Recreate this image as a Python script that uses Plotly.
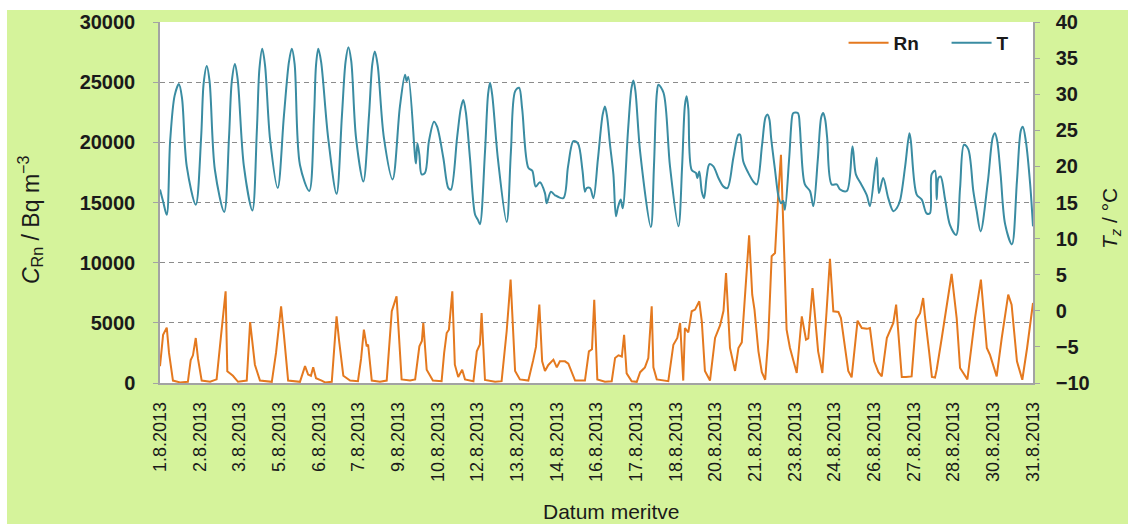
import numpy as np
import plotly.graph_objects as go

# ---- data: August 2013, time in days since 1.8.2013 00:00 ----
date_labels = ["1.8.2013", "2.8.2013", "3.8.2013", "5.8.2013", "6.8.2013", "7.8.2013",
               "9.8.2013", "10.8.2013", "12.8.2013", "13.8.2013", "14.8.2013", "16.8.2013",
               "17.8.2013", "18.8.2013", "20.8.2013", "21.8.2013", "23.8.2013", "24.8.2013",
               "26.8.2013", "27.8.2013", "28.8.2013", "30.8.2013", "31.8.2013"]

# air temperature T (°C)
t_time = [0.00, 0.12, 0.24, 0.36, 0.52, 0.67, 0.78, 0.95, 1.27,
          1.46, 1.55, 1.66, 1.76, 1.95, 2.28,
          2.45, 2.55, 2.66, 2.76, 2.98, 3.28,
          3.44, 3.53, 3.63, 3.73, 3.91, 4.18,
          4.40, 4.58, 4.68, 4.78, 4.97, 5.30,
          5.47, 5.54, 5.62, 5.72, 5.97, 6.27,
          6.46, 6.59, 6.69, 6.79, 6.96, 7.22,
          7.42, 7.54, 7.63, 7.73, 7.95, 8.26,
          8.52, 8.70, 8.76, 8.82, 9.06, 9.09, 9.14, 9.21, 9.29, 9.41,
          9.55, 9.73, 9.84, 10.06, 10.24, 10.33,
          10.55, 10.68, 10.77, 10.86, 11.01, 11.19, 11.29, 11.36,
          11.54, 11.65, 11.72, 11.80, 12.00, 12.31,
          12.46, 12.61, 12.75, 12.86, 13.08, 13.22, 13.34, 13.49, 13.67, 13.73,
          13.88, 14.03, 14.32, 14.49, 14.68, 14.84, 15.00, 15.09, 15.15, 15.27,
          15.39, 15.55, 15.72, 15.80, 15.88, 15.98, 16.10, 16.19, 16.26, 16.36, 16.43,
          16.62, 16.74, 16.81, 16.88, 17.05, 17.43,
          17.54, 17.64, 17.70, 17.88, 18.11, 18.41,
          18.54, 18.64, 18.70, 18.76, 18.88,
          19.03, 19.08, 19.15, 19.24, 19.32, 19.41, 19.51, 19.65, 19.83,
          20.01, 20.15, 20.36, 20.54, 20.60, 20.71, 20.89, 21.07, 21.19,
          21.38, 21.50, 21.57, 21.64, 21.70, 21.84, 21.96, 22.05, 22.13, 22.19,
          22.34, 22.45, 22.49, 22.65, 22.72, 22.76, 22.90, 23.08, 23.20,
          23.36, 23.48, 23.55, 23.62, 23.69, 23.85, 24.03, 24.15,
          24.39, 24.59, 24.71, 24.89, 25.10, 25.21, 25.45, 25.53, 25.68, 25.86,
          26.04, 26.16, 26.28, 26.46, 26.61, 26.66, 26.87, 27.05, 27.22, 27.34,
          27.40, 27.52, 27.58, 27.64, 27.72, 27.88, 28.05, 28.27, 28.41, 28.55,
          28.70, 28.88, 29.00, 29.14,
          29.40, 29.57, 29.65, 29.73, 29.85, 30.01, 30.25,
          30.43, 30.57, 30.64, 30.75, 30.90, 31.00]
t_value = [16.8, 15.0, 13.3, 23.5, 29.8, 31.4, 29.5, 20.0, 14.7,
           24.0, 31.5, 33.9, 31.8, 19.5, 13.7,
           24.0, 31.8, 34.2, 32.0, 20.0, 13.9,
           25.0, 33.5, 36.3, 34.0, 23.7, 17.0,
           27.0, 34.5, 36.3, 34.2, 20.2, 16.6,
           27.0, 34.0, 36.3, 34.5, 24.0, 16.2,
           27.0, 34.5, 36.5, 34.6, 24.0, 17.9,
           27.0, 34.2, 35.9, 34.0, 24.0, 18.2,
           28.3, 32.7, 31.8, 32.4, 21.2, 20.4, 23.2, 21.6, 18.9, 19.1,
           23.5, 26.2, 25.5, 21.2, 17.0, 16.8,
           24.0, 28.0, 29.2, 27.5, 21.0, 13.3, 12.6, 12.0,
           22.0, 30.0, 31.6, 29.8, 21.0, 12.3,
           22.0, 30.4, 30.9, 28.0, 19.8, 19.4, 17.2, 17.8, 16.3, 14.9,
           16.5, 16.0, 15.6, 20.0, 23.5, 23.2, 19.5, 16.5, 17.0, 17.0,
           15.6, 21.0, 27.2, 28.3, 26.8, 23.0, 18.9, 13.1, 14.3, 15.4, 14.2,
           25.0, 30.8, 31.9, 30.5, 22.0, 11.6,
           20.0, 30.0, 31.3, 30.2, 20.0, 11.7,
           20.0, 28.5, 29.7, 28.0, 19.5,
           19.1, 18.4, 19.3, 16.5, 15.6, 18.5, 20.3, 20.0, 18.4,
           17.2, 17.0, 21.2, 24.4, 24.4, 20.7, 19.1, 17.9, 17.5,
           23.0, 26.8, 27.2, 26.5, 24.0, 19.5, 15.9, 14.9, 15.2, 14.0,
           21.0, 27.0, 27.4, 27.4, 25.5, 23.0, 17.5, 16.6, 14.5,
           21.0, 26.8, 27.4, 26.5, 24.0, 17.5, 17.5, 16.8,
           16.6, 22.8, 18.9, 17.6, 16.0, 14.5, 21.2, 16.3, 18.4, 15.6,
           13.8, 14.2, 15.3, 20.0, 24.6, 23.6, 16.1, 15.4, 13.5, 13.5,
           18.9, 19.4, 15.4, 18.4, 18.6, 15.4, 11.9, 10.5, 17.0, 23.0,
           22.4, 16.6, 13.8, 11.0,
           18.0, 24.0, 24.6, 23.5, 18.9, 12.0, 9.2,
           18.0, 25.0, 25.5, 23.4, 17.5, 11.7]

# radon activity concentration C_Rn (Bq m^-3)
rn_time = [0.00, 0.11, 0.24, 0.32, 0.46, 0.71, 0.99, 1.09, 1.17, 1.27,
           1.35, 1.48, 1.78, 2.01, 2.17, 2.33, 2.39, 2.59, 2.77, 3.08,
           3.20, 3.37, 3.55, 3.97, 4.12, 4.30, 4.40, 4.55, 4.97, 5.15,
           5.26, 5.36, 5.44, 5.54, 5.74, 5.86, 6.10, 6.18, 6.27, 6.36,
           6.51, 6.75, 7.03, 7.14, 7.24, 7.34, 7.39, 7.52, 7.81, 8.05,
           8.23, 8.40, 8.46, 8.58, 8.88, 9.06, 9.21, 9.30, 9.35, 9.47,
           9.69, 10.00, 10.09, 10.18, 10.26, 10.38, 10.47, 10.59, 10.73, 10.83,
           11.13, 11.25, 11.36, 11.42, 11.54, 11.90, 12.13, 12.31, 12.45, 12.61,
           12.78, 13.08, 13.25, 13.35, 13.47, 13.57, 13.67, 13.79, 13.97, 14.09,
           14.20, 14.38, 14.50, 14.62, 14.74, 15.09, 15.23, 15.34, 15.42, 15.53,
           15.80, 16.04, 16.16, 16.28, 16.40, 16.48, 16.57, 16.75, 16.93, 17.05,
           17.22, 17.34, 17.46, 17.52, 17.64, 18.05, 18.23, 18.37, 18.47, 18.58,
           18.64, 18.76, 18.88, 19.00, 19.15, 19.24, 19.35, 19.53, 19.71, 19.89,
           20.01, 20.10, 20.24, 20.42, 20.54, 20.66, 20.92, 21.03, 21.11, 21.25,
           21.37, 21.49, 21.60, 21.72, 21.84, 21.94, 22.05, 22.17, 22.25, 22.37,
           22.49, 22.61, 22.79, 22.94, 23.02, 23.17, 23.37, 23.52, 23.67, 23.79,
           23.91, 24.09, 24.18, 24.33, 24.44, 24.56, 24.71, 24.77, 24.92, 25.10,
           25.21, 25.36, 25.51, 25.63, 25.81, 26.04, 26.14, 26.22, 26.34, 26.49,
           26.69, 26.85, 26.99, 27.10, 27.16, 27.31, 27.41, 27.52, 27.58, 27.76,
           27.93, 28.11, 28.29, 28.41, 28.67, 28.94, 29.15, 29.36, 29.47, 29.59,
           29.71, 29.89, 30.12, 30.24, 30.43, 30.62, 30.79, 31.00]
rn_value = [1400, 4000, 4600, 2500, 200, 50, 100, 1900, 2300, 3740,
            2000, 200, 100, 300, 4000, 7620, 970, 600, 100, 200,
            5070, 1520, 200, 100, 2500, 6370, 4000, 200, 100, 1400,
            700, 600, 1300, 400, 200, 50, 100, 2500, 5540, 3500,
            600, 200, 150, 2000, 4430, 3050, 3200, 200, 100, 200,
            5960, 7200, 5000, 300, 200, 300, 3050, 3500, 4990, 1100,
            200, 150, 2500, 4150, 4430, 7620, 1520, 500, 1100, 300,
            150, 2630, 3200, 5820, 250, 100, 150, 4300, 8590, 1000,
            300, 200, 1880, 3000, 6510, 1800, 1000, 1500, 1940, 1300,
            1800, 1800, 1600, 900, 200, 200, 2630, 2800, 6920, 300,
            100, 150, 2080, 2300, 2200, 4010, 800, 150, 100, 900,
            1300, 2080, 6370, 1300, 300, 150, 3180, 3740, 4990, 200,
            4570, 4200, 5960, 6100, 6790, 5100, 1000, 200, 3740, 4800,
            6000, 9140, 2910, 1000, 2910, 3380, 12270, 7340, 6090, 2630,
            900, 270, 3740, 10530, 10800, 15100, 18970, 10390, 4430, 2910,
            1800, 830, 5540, 3600, 3700, 7890, 2630, 830, 5960, 10330,
            5960, 5900, 5400, 2630, 1000, 470, 4200, 5180, 4570, 4500,
            4570, 1800, 900, 560, 3740, 4990, 6510, 4300, 500, 500,
            550, 5260, 5800, 7060, 5600, 2630, 500, 450, 1100, 3740,
            6370, 9060, 5400, 1250, 300, 5400, 8590, 2910, 2350, 1400,
            550, 3740, 7340, 6500, 1800, 270, 2910, 6650]

RN_COLOR = "#E4791F"
T_COLOR = "#3A8CA2"
GREEN = "#D5F39B"
AXIS_GREY = "#A3A3A3"
FONT = "Arial, Liberation Sans, sans-serif"

fig = go.Figure()
fig.add_trace(go.Scatter(x=rn_time, y=rn_value, name="Rn", mode="lines",
                         line=dict(color=RN_COLOR, width=2)))
fig.add_trace(go.Scatter(x=t_time, y=t_value, name="T", mode="lines", yaxis="y2",
                         line=dict(color=T_COLOR, width=2, shape="spline", smoothing=0.9)))

tick_pos = np.linspace(0, 31, len(date_labels))

fig.update_layout(
    width=1128, height=524,
    margin=dict(l=160, r=95, t=22, b=141, autoexpand=False),
    paper_bgcolor=GREEN, plot_bgcolor="white",
    font=dict(family=FONT, color="#1a1a1a"),
    showlegend=True,
    legend=dict(orientation="h", x=0.783, y=0.942, xanchor="left", yanchor="middle",
                bgcolor="rgba(0,0,0,0)", font=dict(size=19, weight="bold"),
                itemwidth=40, tracegroupgap=0, entrywidth=48),
    xaxis=dict(range=[0, 31], tickmode="array", tickvals=tick_pos, ticktext=date_labels,
               tickangle=-90, tickfont=dict(size=18), showgrid=False, zeroline=False,
               showline=True, linecolor=AXIS_GREY, linewidth=1.5, ticks="",
               ticklabelstandoff=10, automargin=False),
    yaxis=dict(range=[0, 30000], tickvals=[0, 5000, 10000, 15000, 20000, 25000, 30000],
               tickformat="d",
               tickfont=dict(size=20, weight="bold"), showgrid=True, gridcolor="#8C8C8C",
               griddash="5px,4px", gridwidth=1, zeroline=False, showline=True,
               linecolor=AXIS_GREY, linewidth=1.5, ticks="outside", ticklen=5,
               tickcolor=AXIS_GREY, ticklabelstandoff=14, automargin=False),
    yaxis2=dict(range=[-10, 40], tickvals=[-10, -5, 0, 5, 10, 15, 20, 25, 30, 35, 40],
                overlaying="y", side="right", tickfont=dict(size=20, weight="bold"),
                showgrid=False, zeroline=False, showline=True, linecolor=AXIS_GREY,
                linewidth=1.5, ticks="outside", ticklen=5, tickcolor=AXIS_GREY,
                ticklabelstandoff=12, automargin=False),
    shapes=[
        # white strip along the top and left edges of the page
        dict(type="rect", xref="paper", yref="paper", x0=-0.19, x1=1.12,
             y0=(383 - 10) / 361, y1=1.12, fillcolor="white", line_width=0, layer="below"),
        dict(type="rect", xref="paper", yref="paper", x0=-0.19, x1=(7 - 160) / 873,
             y0=-0.4, y1=1.12, fillcolor="white", line_width=0, layer="below"),
    ],
    annotations=[
        dict(text="<i>C</i><sub>Rn</sub> / Bq m<sup>−3</sup>", xref="paper", yref="paper",
             x=(30 - 160) / 873, y=(383 - 220) / 361, textangle=-90, showarrow=False,
             xanchor="center", yanchor="middle", font=dict(size=23)),
        dict(text="<i>T</i><sub><i>z</i></sub> / °C", xref="paper", yref="paper",
             x=(1111 - 160) / 873, y=(383 - 219) / 361, textangle=-90, showarrow=False,
             xanchor="center", yanchor="middle", font=dict(size=21)),
        dict(text="Datum meritve", xref="paper", yref="paper",
             x=(611 - 160) / 873, y=(383 - 512) / 361, showarrow=False,
             xanchor="center", yanchor="middle", font=dict(size=21)),
    ],
)

fig.write_html("out.html")
